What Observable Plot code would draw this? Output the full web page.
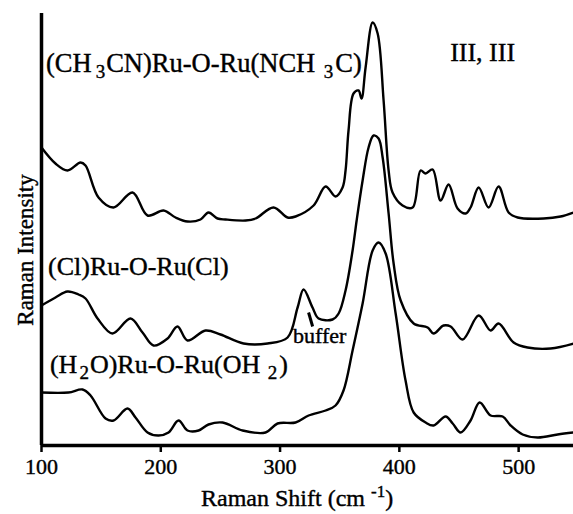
<!DOCTYPE html>
<html><head><meta charset="utf-8">
<script src="https://cdn.jsdelivr.net/npm/d3@7"></script>
<script src="https://cdn.jsdelivr.net/npm/@observablehq/plot@0.6"></script>
<style>html,body{margin:0;padding:0;background:#fff;} svg{display:block} svg text{stroke:black;stroke-width:0.4px;}</style>
</head><body><div id="chart"></div>
<script>
// Raman shift (cm^-1) and intensity (arbitrary units, stacked as in the figure)
const shiftCH3CN = [100,111.7,121.8,132.7,136.9,147.8,160.4,176.3,188.9,202.3,212.4,222.4,233.3,240,247.6,254.3,271.1,279.5,294.5,306.3,313,328.1,338.2,346.5,352.4,354.9,357.4,361.6,365.8,368.3,371.7,377.6,381.8,386.8,391,394.3,402.7,411.1,417.8,422,427.9,434.6,441.3,448.8,455.6,459.7,466.5,474.8,483.2,491.6,499.2,521,535.2,546];
const intensityCH3CN = [298,282,275,283,280,248,238,253,230,235,228,224,226,233,227,226,225,227,238,228,229,240,259,249,258,275,315,352,355,347,378,423,412,345,275,253,240,238,275,272,276,245,261,237,232,238,258,238,259,233,228,227,229,233];

const shiftCl = [100,111.7,121.8,131,136.9,147,159.5,174.6,184.7,193.9,205.7,214,222.4,237.5,250.1,269.4,289.5,306.3,314.7,319.7,327.2,332.3,344,349.1,354.9,360.8,364.2,369.2,374.2,378.4,382.6,386,391,395.2,401.1,412,423.7,428.7,437.1,443,453,466.5,476.5,483.2,495.8,507.5,526.8,546];
const intensityCl = [140,148,154,151,147,127,112,127,113,100,107,119,105,115,111,102,102,108,138,156,138,127,126,132,155,195,225,265,298,310,307,288,232,182,145,122,118,112,120,119,106,130,115,122,103,98,97,102];

const shiftH2O = [100,122.6,134.4,141.1,153.7,160.4,172.1,178.8,188.9,198.1,206.5,214.9,222.4,231.7,240,251.8,268.6,287.8,297.9,313,323.9,338.2,346.5,353.2,360.8,369.2,377.6,382.6,388.5,396.9,405.2,412,422,428.7,438.8,444.7,451.4,459.7,467.3,476.5,486.6,493.3,503.4,515.9,532.7,546];
const intensityH2O = [53,53,56,50,27,25,37,28,13,10,13,25,15,15,21,23,15,13,22,23,30,35,40,55,95,142,195,203,192,132,65,33,23,20,29,22,13,25,43,30,29,20,11,8,11,13];

const xTicks = [100, 200, 300, 400, 500];
const bufferMarkShift = [323.9, 327.3];
const bufferMarkIntensity = [133, 119];

const series = [
  {name: "CH3CN", shift: shiftCH3CN, intensity: intensityCH3CN},
  {name: "Cl", shift: shiftCl, intensity: intensityCl},
  {name: "H2O", shift: shiftH2O, intensity: intensityH2O}
];
const data = series.flatMap(s => s.shift.map((x, i) => ({series: s.name, x, y: s.intensity[i]})));
const bufferMark = [{x1: bufferMarkShift[0], y1: bufferMarkIntensity[0], x2: bufferMarkShift[1], y2: bufferMarkIntensity[1]}];

const serif = "'Liberation Serif', 'Times New Roman', serif";
const chart = Plot.plot({
  width: 573, height: 514,
  marginLeft: 41, marginRight: 0, marginTop: 13, marginBottom: 69,
  x: {domain: [100, 546]},
  y: {domain: [0, 432], axis: null},
  style: {fontFamily: serif, background: "white", color: "black"},
  marks: [
    Plot.line(data, {x: "x", y: "y", z: "series", curve: "catmull-rom", stroke: "black", strokeWidth: 2.4}),
    Plot.link(bufferMark, {x1: "x1", y1: "y1", x2: "x2", y2: "y2", stroke: "black", strokeWidth: 3}),
    Plot.ruleX([100], {strokeWidth: 3.5}),
    Plot.ruleY([0], {strokeWidth: 3.5}),
    Plot.axisX({ticks: xTicks, tickSize: 7, tickPadding: 6, fontSize: 22, label: null, strokeWidth: 2.5, tickFormat: d => String(d)})
  ]
});
document.getElementById("chart").appendChild(chart);

const sx = chart.scale("x"), sy = chart.scale("y");
const svg = d3.select(chart);
function addLabel(parts, px, py, size, subSize, anchor = "start") {
  const t = svg.append("text").attr("x", px).attr("y", py)
    .attr("text-anchor", anchor)
    .attr("font-family", serif).attr("font-size", size).attr("fill", "black");
  let shifted = 0;
  parts.forEach(p => {
    const ts = t.append("tspan").text(p.t);
    const target = p.sub ? 6 : (p.sup ? -9 : 0);
    if (target !== shifted) { ts.attr("dy", target - shifted); shifted = target; }
    if (p.sub || p.sup) ts.attr("font-size", subSize);
    if (p.dx) ts.attr("dx", p.dx);
  });
  return t;
}
// curve labels (positions in data units)
addLabel([{t: "(CH"}, {t: "3", sub: true, dx: 4}, {t: "CN)Ru-O-Ru(NCH ", dx: 1}, {t: "3", sub: true, dx: 2}, {t: "C)", dx: 2}],
  sx.apply(104.2), sy.apply(373), 26.5, 19);
addLabel([{t: "III, III"}], sx.apply(443), sy.apply(384), 26, 19);
addLabel([{t: "(Cl)Ru-O-Ru(Cl)"}], sx.apply(105.9), sy.apply(170), 26, 19);
addLabel([{t: "(H"}, {t: "2", sub: true, dx: 2}, {t: "O)Ru-O-Ru(OH ", dx: 1}, {t: "2", sub: true, dx: 1}, {t: ")", dx: 2}],
  sx.apply(107.5), sy.apply(72), 26, 19);
addLabel([{t: "buffer"}], sx.apply(311.3), sy.apply(102), 22, 16);

// axis titles
addLabel([{t: "Raman Shift (cm "}, {t: "-1", sup: true}, {t: ")"}], sx.apply(314.7), 506, 24, 17, "middle");
svg.append("text").attr("transform", `translate(33,${sy.apply(195)}) rotate(-90)`)
  .attr("text-anchor", "middle").attr("font-family", serif).attr("font-size", 23).attr("fill", "black")
  .text("Raman Intensity");
</script>
</body></html>
